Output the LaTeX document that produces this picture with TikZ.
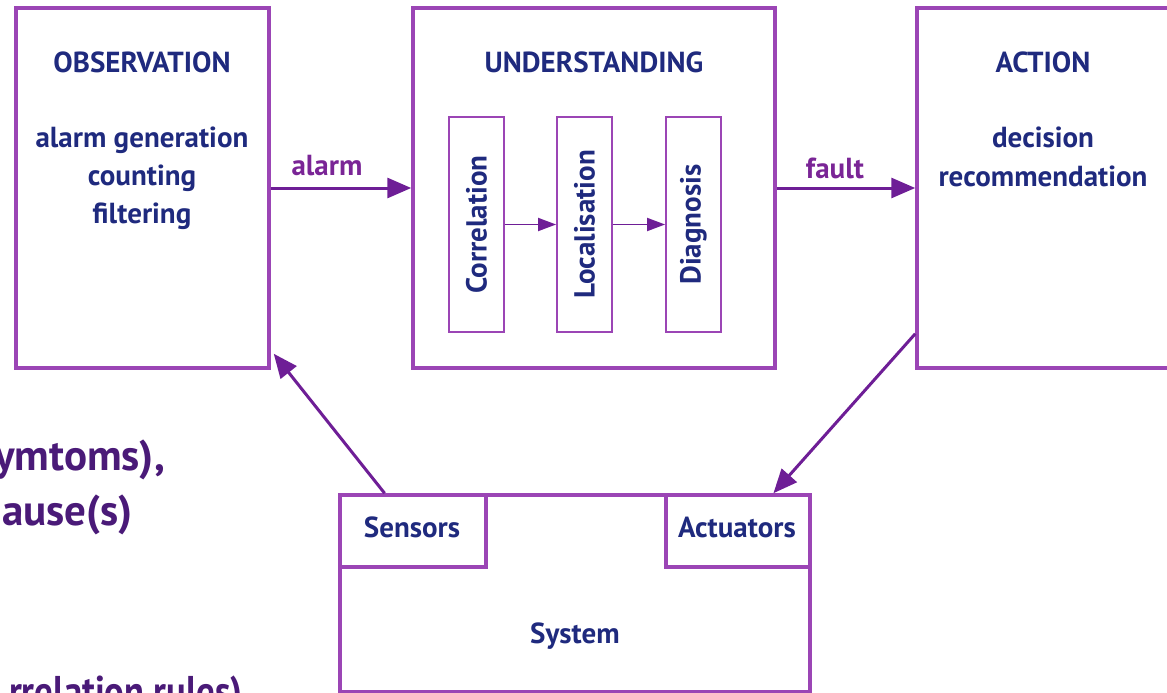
\documentclass[tikz,border=0pt]{standalone}
\usepackage{fontspec}
\setmainfont{PT Sans}
\usetikzlibrary{arrows.meta,calc}
\definecolor{boxline}{HTML}{9B45B5}
\definecolor{arrowc}{HTML}{6E1E96}
\definecolor{navy}{HTML}{1F2A7E}
\definecolor{notec}{HTML}{4A1A78}
\definecolor{labelc}{HTML}{7A2596}
\begin{document}
\begin{tikzpicture}[x=1pt,y=-1pt,
  panel/.style={draw=boxline, line width=3.5pt, rectangle, inner sep=0pt},
  stagebox/.style={draw=boxline, line width=1.8pt, rectangle, inner sep=0pt,
    minimum width=55pt, minimum height=215pt},
  txt/.style={text=navy, font=\bfseries\fontsize{29}{34}\selectfont, inner sep=0pt, anchor=base},
  vtxt/.style={text=navy, font=\bfseries\fontsize{29}{34}\selectfont, inner sep=0pt, rotate=90},
  lbl/.style={text=labelc, font=\bfseries\fontsize{29}{34}\selectfont, inner sep=0pt, anchor=base},
  note/.style={text=notec, font=\bfseries\fontsize{43}{50}\selectfont, inner sep=0pt, anchor=base east},
  flow/.style={draw=arrowc, line width=3pt, -{Triangle[length=24pt,width=20pt]}},
  subflow/.style={draw=arrowc, line width=1.8pt, -{Triangle[length=18pt,width=13pt]}}]
\useasboundingbox (0,0) rectangle (1167,693);
\clip (0,0) rectangle (1167,693);

% main stages
\node[panel, minimum width=253pt, minimum height=360pt] (obs) at (142.5,188) {};
\node[panel, minimum width=362pt, minimum height=360pt] (und) at (594,188) {};
\node[panel, minimum width=253pt, minimum height=360pt] (act) at (1043.5,188) {};

% system with sensors and actuators
\node[panel, minimum width=470pt, minimum height=197pt] (sys) at (575,593.5) {};
\node[panel, minimum width=146pt, minimum height=72pt] (sens) at (413,531) {};
\node[panel, minimum width=144pt, minimum height=72pt] (actu) at (738,531) {};

% understanding steps
\node[stagebox] (corr) at (476.5,224.5) {};
\node[stagebox] (loc) at (584.5,224.5) {};
\node[stagebox] (diag) at (693.5,224.5) {};
\node[vtxt] (corrt) at (corr.center) {Correlation};
\node[vtxt] (loct) at (loc.center) {Localisation};
\node[vtxt] (diagt) at (diag.center) {Diagnosis};

% texts
\node[txt] (obst) at (142,73) {OBSERVATION};
\node[txt] (obs1) at (142,147) {alarm generation};
\node[txt] (obs2) at (142,185) {counting};
\node[txt] (obs3) at (142,223) {filtering};
\node[txt] (undt) at (594,73) {UNDERSTANDING};
\node[txt] (actt) at (1043,73) {ACTION};
\node[txt] (act1) at (1043,147) {decision};
\node[txt] (act2) at (1043,186) {recommendation};
\node[txt] (senst) at (412,537) {Sensors};
\node[txt] (actut) at (737,537) {Actuators};
\node[txt] (syst) at (575,643) {System};

% connectors
\draw[flow] (obs.east) -- (und.west) node[lbl, pos=0.4, above=11pt] (alarmlbl) {alarm};
\draw[flow] (und.east) -- (act.west) node[lbl, pos=0.42, above=8pt] (faultlbl) {fault};
\draw[subflow] (corr.east) -- (loc.west);
\draw[subflow] (loc.east) -- (diag.west);
\coordinate (sensout) at ($(sens.north west)!0.31!(sens.north east)$);
\coordinate (obsin) at ($(obs.south east)+(3,-16)$);
\draw[flow] (sensout) -- (obsin);
\coordinate (actout) at ($(act.south west)+(0,-36)$);
\coordinate (actuin) at ($(actu.north west)!0.74!(actu.north east)$);
\draw[flow] (actout) -- (actuin);

% side notes
\node[note] (n1) at (165,470) {ymtoms),};
\node[note] (n2) at (133,525) {ause(s)};
\node[note, xscale=0.85] (n3) at (243,706) {rrelation rules)};
\end{tikzpicture}
\end{document}
